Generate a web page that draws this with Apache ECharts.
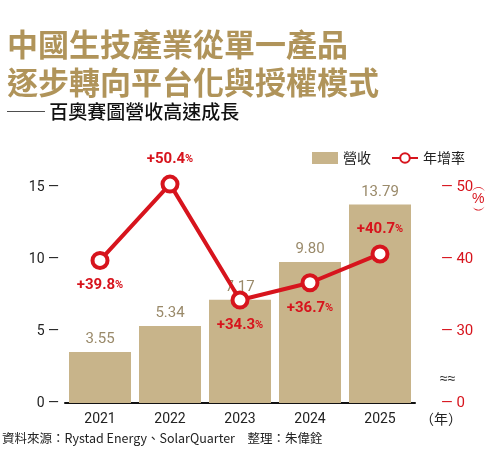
<!DOCTYPE html>
<html><head><meta charset="utf-8">
<script src="https://cdn.jsdelivr.net/npm/echarts@6/dist/echarts.min.js"></script>
<style>body{margin:0;background:#fff}#c{width:500px;height:453px}</style>
</head><body><div id="c"></div>
<script>
var years = ['2021', '2022', '2023', '2024', '2025'];
var revenue = [3.55, 5.34, 7.17, 9.80, 13.79];
var growth = [39.8, 50.4, 34.3, 36.7, 40.7];
var growthPos = ['bottom', 'top', 'bottom', 'bottom', 'top'];

var RED = '#d7141d', GOLD = '#c8b48a';
var myChart = echarts.init(document.getElementById('c'));
var option = {
    animation: false,
    textStyle: {fontFamily: 'Roboto, "Noto Sans CJK TC"'},
    title: [
        {text: '中國生技產業從單一產品\n逐步轉向平台化與授權模式', left: 2, top: 20,
         textStyle: {color: '#b0945a', fontSize: 31, fontWeight: 'bold', lineHeight: 38, fontFamily: '"Noto Sans CJK TC"'}},
        {text: '── 百奧賽圖營收高速成長', left: 2, top: 97,
         textStyle: {color: '#111', fontSize: 19, fontWeight: 500, fontFamily: '"Noto Sans CJK TC"'}}
    ],
    legend: {
        right: 30, top: 146, itemGap: 20, itemWidth: 26, itemHeight: 12,
        textStyle: {fontSize: 14, color: '#222', fontFamily: '"Noto Sans CJK TC"'},
        data: [{name: '營收', icon: 'rect'}, {name: '年增率'}]
    },
    grid: {left: 65, right: 85, top: 187, bottom: 50},
    xAxis: {
        type: 'category', data: years,
        axisLine: {lineStyle: {color: '#111', width: 2}},
        axisTick: {show: false},
        axisLabel: {color: '#222', fontSize: 14, margin: 10}
    },
    yAxis: [
        {type: 'value', min: 0, max: 15, interval: 5, splitLine: {show: false},
         axisLabel: {color: '#222', fontSize: 14, formatter: '{value} —', margin: 6}},
        {type: 'value', min: 20, max: 50, interval: 10, offset: 22, splitLine: {show: false},
         axisLabel: {color: RED, fontSize: 15, margin: 4,
                     formatter: function (v) { return '— ' + (v === 20 ? '0' : v); }}}
    ],
    graphic: [
        {type: 'text', left: 472, top: 180, style: {text: '︵\n%\n︶', fill: RED, fontSize: 14, lineHeight: 12, align: 'center'}},
        {type: 'text', left: 440, top: 372, style: {text: '≈≈', fill: '#222', fontSize: 14}},
        {type: 'text', left: 420, top: 412, style: {text: '（年）', fill: '#222', fontSize: 14, fontFamily: '"Noto Sans CJK TC"'}},
        {type: 'text', left: 2, top: 432, style: {text: '資料來源：Rystad Energy、SolarQuarter　整理：朱偉銓', fill: '#222', fontSize: 12.5, fontFamily: '"Noto Sans CJK TC"'}}
    ],
    series: [
        {name: '營收', type: 'bar', data: revenue, barWidth: 62, itemStyle: {color: GOLD},
         label: {show: true, position: 'top', color: '#9a8a6a', fontSize: 15, formatter: function (p) { return p.value.toFixed(2); }}},
        {name: '年增率', type: 'line', yAxisIndex: 1, symbol: 'circle', symbolSize: 15, clip: false, z: 5,
         lineStyle: {color: RED, width: 4},
         itemStyle: {color: '#fff', borderColor: RED, borderWidth: 4},
         data: growth.map(function (v, i) {
             return {value: v, label: {position: growthPos[i]}};
         }),
         labelLayout: {hideOverlap: false},
         label: {show: true, distance: 8, formatter: function (p) { return '{a|+' + p.value.toFixed(1) + '}{b|%}'; },
                 rich: {a: {color: RED, fontSize: 15, fontWeight: 'bold'}, b: {color: RED, fontSize: 11, fontWeight: 'bold'}}}}
    ]
};
myChart.setOption(option);
</script></body></html>
